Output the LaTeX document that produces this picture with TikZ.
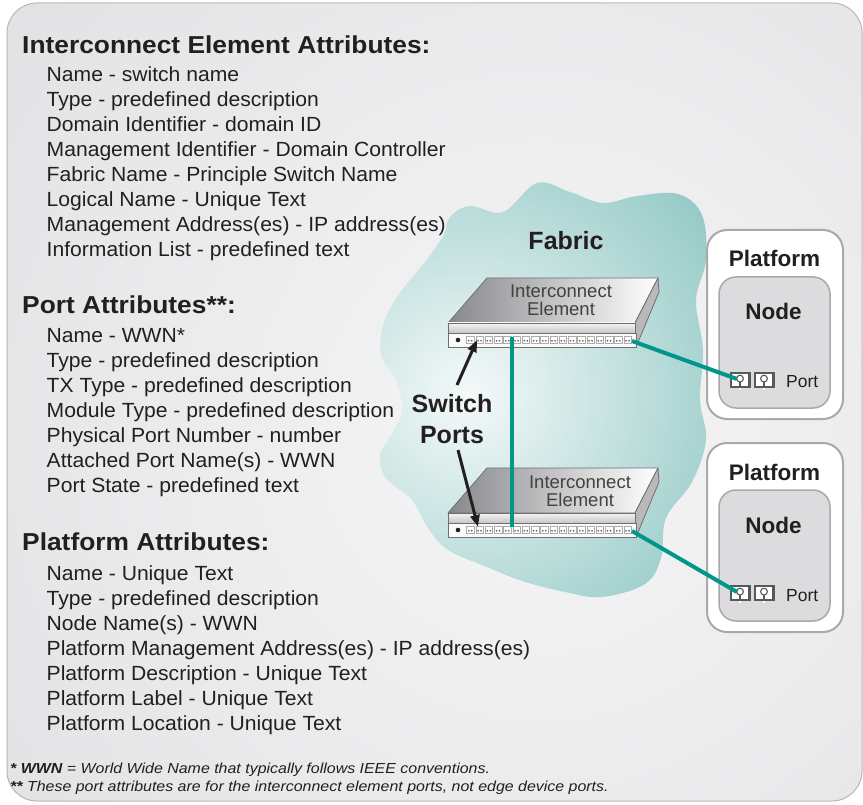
\documentclass[tikz,border=0pt]{standalone}
\usepackage{fontspec}
\setmainfont{Liberation Sans}
\usetikzlibrary{arrows.meta}

\definecolor{ink}{HTML}{231F20}
\definecolor{panelLight}{HTML}{F6F6F7}
\definecolor{panelDark}{HTML}{D5D6D8}
\definecolor{panelEdge}{HTML}{B5B6B8}
\definecolor{fabricDark}{HTML}{5CAEA8}
\definecolor{fabricLight}{HTML}{F4F9F9}
\definecolor{link}{HTML}{00968A}
\definecolor{boxEdge}{HTML}{A9A9AB}
\definecolor{nodeFill}{HTML}{DCDCDE}
\definecolor{caseEdge}{HTML}{6E6F71}
\definecolor{caseDark}{HTML}{87888A}
\definecolor{jackDark}{HTML}{58595B}

\tikzset{
  heading/.style={anchor=base west, inner sep=0pt, text=ink,
    font=\fontsize{24.5}{28}\selectfont\bfseries\addfontfeature{FakeStretch=1.075}},
  item/.style={anchor=base west, inner sep=0pt, text=ink,
    font=\fontsize{20.5}{24}\selectfont\addfontfeature{FakeStretch=1.03}},
  note/.style={anchor=base west, inner sep=0pt, text=ink,
    font=\fontsize{14.5}{16}\selectfont\itshape\addfontfeature{FakeStretch=1.1}},
  biglabel/.style={anchor=base, inner sep=0pt, text=ink,
    font=\fontsize{25}{30}\selectfont\bfseries},
  boxlabel/.style={anchor=base, inner sep=0pt, text=ink,
    font=\fontsize{22.5}{26}\selectfont\bfseries},
  swlabel/.style={anchor=base, inner sep=0pt, text=ink!85,
    font=\fontsize{18.5}{20}\selectfont},
  portlabel/.style={anchor=base west, inner sep=0pt, text=ink,
    font=\fontsize{17.5}{20}\selectfont},
  linkline/.style={link, line width=4pt},
  pointer/.style={ink, line width=3pt,
    -{Triangle[length=12pt,width=9pt]}},
  platformbox/.style={boxEdge, line width=2pt, fill=white, rounded corners=20pt},
  nodebox/.style={boxEdge, line width=1.5pt, fill=nodeFill, rounded corners=17pt},
}

\begin{document}
\begin{tikzpicture}[x=1pt, y=-1pt]
\useasboundingbox (0,0) rectangle (863,805);

% ---- background panel ----
\begin{scope}
  \clip[rounded corners=30pt] (7,3) rectangle (862,801);
  \shade[inner color=panelLight, outer color=panelDark] (540,430) circle (1100);
\end{scope}
\draw[panelEdge, line width=1pt, rounded corners=30pt] (7,3) rectangle (862,801);

% ---- attribute lists ----
\node[heading] (h1) at (22,53.3) {Interconnect Element Attributes:};
\foreach \t [count=\i from 0] in {
    Name - switch name,
    Type - predefined description,
    Domain Identifier - domain ID,
    Management Identifier - Domain Controller,
    Fabric Name - Principle Switch Name,
    Logical Name - Unique Text,
    Management Address(es) - IP address(es),
    Information List - predefined text}
  \node[item] (ie\i) at (46.5,81.7+25*\i) {\t};

\node[heading] (h2) at (22,314) {Port Attributes**:};
\foreach \t [count=\i from 0] in {
    Name - WWN*,
    Type - predefined description,
    TX Type - predefined description,
    Module Type - predefined description,
    Physical Port Number - number,
    Attached Port Name(s) - WWN,
    Port State - predefined text}
  \node[item] (pa\i) at (46.5,342.5+25*\i) {\t};

\node[heading] (h3) at (22,550.5) {Platform Attributes:};
\foreach \t [count=\i from 0] in {
    Name - Unique Text,
    Type - predefined description,
    Node Name(s) - WWN,
    Platform Management Address(es) - IP address(es),
    Platform Description - Unique Text,
    Platform Label - Unique Text,
    Platform Location - Unique Text}
  \node[item] (pl\i) at (46.5,580+25*\i) {\t};

% ---- footnotes ----
\node[note] (fn1) at (10,773) {\textbf{* WWN} = World Wide Name that typically follows IEEE conventions.};
\node[note] (fn2) at (10,791) {\textbf{**} These port attributes are for the interconnect element ports, not edge device ports.};

% ---- fabric cloud ----
\def\fabricpath{plot[smooth cycle, tension=0.6] coordinates {
  (450,217) (470,206) (503,212) (537,183) (570,192) (603,203) (637,196)
  (678,194) (702,215) (706,260) (696,300) (703,350) (700,400) (706,440)
  (692,482) (666,518) (661,558) (645,584) (602,597) (565,592) (522,581)
  (487,567) (448,550) (428,528) (412,500) (386,478) (380,455) (393,432)
  (402,410) (396,380) (381,355) (384,322) (400,293) (425,262) (443,236)}}
\begin{scope}
  \clip \fabricpath;
  \shade[inner color=fabricLight, outer color=fabricDark] (468,395) circle (480);
\end{scope}
\node[biglabel] (fabric) at (566,250) {Fabric};

% ---- interconnect elements (switches) ----
\foreach \dy/\lx/\n in {0/561/1,190/580/2} {
  \begin{scope}[shift={(0,\dy)}]
    % top face
    \shade[left color=caseDark, right color=white]
      (487,278) -- (658,278) -- (635,323) -- (448,323) -- cycle;
    \draw[caseEdge, line width=0.8pt, line join=round]
      (487,278) -- (658,278) -- (635,323) -- (448,323) -- cycle;
    % right side face
    \draw[caseEdge, fill=gray!55, line width=0.8pt, line join=round]
      (658,278) -- (659,292) -- (636,347) -- (635,323) -- cycle;
    % front rim
    \shade[top color=gray!8, bottom color=gray!45] (448,323) rectangle (635,333);
    \draw[caseEdge, line width=0.8pt] (448,323) rectangle (635,333);
    % port panel
    \draw[caseEdge, fill=gray!4, line width=0.8pt] (448,333) rectangle (636,347);
    \fill[ink] (458,340) circle (2.3pt);
    \foreach \k in {0,...,17} {
      \draw[gray!65, fill=white, line width=0.4pt]
        (466.5+9.25*\k,336.5) rectangle ++(7.6,7);
      \fill[gray!70!black] (468.8+9.25*\k,340.8) circle (0.9pt)
                           (471.8+9.25*\k,340.8) circle (0.9pt);
    }
    \node[swlabel] (sw\n a) at (\lx,298) {Interconnect};
    \node[swlabel] (sw\n b) at (\lx,316) {Element};
    \coordinate (sw\n mid) at (512,337);
    \coordinate (sw\n out) at (632,341);
  \end{scope}
}
\coordinate (sw1jack) at (477,340);
\coordinate (sw2jack) at (478,527);

% ---- platforms ----
\foreach \dy/\n in {0/1,213/2} {
  \begin{scope}[shift={(0,\dy)}]
    \draw[platformbox] (707,230) rectangle (843,419);
    \node[boxlabel] (plat\n) at (774.5,267) {Platform};
    \draw[nodebox] (719,277) rectangle (830,408);
    \node[boxlabel] (node\n) at (773.5,320) {Node};
    \foreach \px in {729.5,753.5} {
      \fill[jackDark] (\px,371.7) rectangle ++(21,16.6);
      \fill[white] (\px+2.6,374.3) rectangle ++(15.8,11.4);
      \draw[jackDark, line width=1.1pt] (\px+10.5,378.6) circle (3.4pt);
      \draw[jackDark, line width=1.1pt] (\px+10.5,382) -- (\px+10.5,385.7);
      \fill[white] (\px+9.5,388.3) rectangle ++(2,2);
    }
    \node[portlabel] (port\n) at (786,388) {Port};
    \coordinate (jack\n) at (737,379);
  \end{scope}
}

% ---- links ----
\draw[linkline] (sw1mid) -- (sw2mid);
\draw[linkline] (sw1out) -- (jack1);
\draw[linkline] (sw2out) -- (jack2);

% ---- switch port callout ----
\node[biglabel] (swt) at (452,413) {Switch};
\node[biglabel] (pts) at (452,443) {Ports};
\coordinate (swtfoot) at (457,385);
\coordinate (ptsfoot) at (458,450);
\draw[pointer] (swtfoot) -- (sw1jack);
\draw[pointer] (ptsfoot) -- (sw2jack);
\end{tikzpicture}
\end{document}
